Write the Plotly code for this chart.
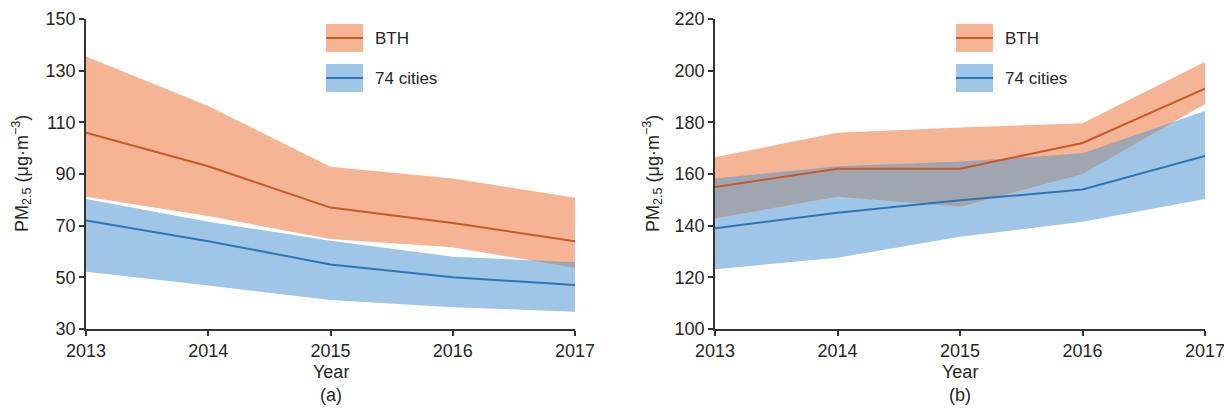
import numpy as np
import plotly.graph_objects as go

# ---- data -------------------------------------------------------------
years = [2013, 2014, 2015, 2016, 2017]

# (a) annual mean PM2.5
a_bth_mean = [106, 93, 77, 71, 64]
a_bth_upper = [135.5, 116.3, 92.8, 88.3, 80.8]
a_bth_lower = [81.2, 73.7, 64.8, 61.6, 53.7]
a_cities_mean = [72, 64, 55, 50, 47]
a_cities_upper = [80.3, 71.5, 64.2, 58.0, 55.8]
a_cities_lower = [52.2, 46.8, 41.2, 38.4, 36.7]

# (b) winter / peak PM2.5
b_bth_mean = [155, 162, 162, 172, 193]
b_bth_upper = [166.5, 176, 178, 179.6, 203.5]
b_bth_lower = [142.8, 151.2, 147.3, 160, 187.1]
b_cities_mean = [139, 145, 149.8, 154, 167]
b_cities_upper = [158.3, 163, 164.8, 168, 184.4]
b_cities_lower = [123.1, 127.6, 135.7, 141.5, 150.3]

series_names = ["BTH", "74 cities"]
panel_labels = ["(a)", "(b)"]
y_ranges = [(30, 150), (100, 220)]
y_ticks = [[30, 50, 70, 90, 110, 130, 150], [100, 120, 140, 160, 180, 200, 220]]

# ---- styles -----------------------------------------------------------
ORANGE_FILL = "#F5B595"
ORANGE_LINE = "#C65A28"
BLUE_FILL = "#9FC6E7"
BLUE_LINE = "#2E75B6"
GREY_FILL = "#A0A6B0"
AXIS_COLOR = "#333333"
TEXT_COLOR = "#262626"
FONT = "Liberation Sans, Arial, sans-serif"
FS = 18

W, H = 1224, 408
x_domains = [(86 / W, 575 / W), (715 / W, 1205 / W)]
y_domain = (1 - 329 / H, 1 - 19 / H)


def overlap_region(x, u1, l1, u2, l2):
    """Polygon of the area covered by both bands (piecewise linear)."""
    x = np.asarray(x, float)
    curves = [np.asarray(c, float) for c in (u1, l1, u2, l2)]
    xs = list(x)
    for i in range(len(x) - 1):
        for a in range(4):
            for b in range(a + 1, 4):
                d0 = curves[a][i] - curves[b][i]
                d1 = curves[a][i + 1] - curves[b][i + 1]
                if d0 * d1 < 0:
                    t = d0 / (d0 - d1)
                    xs.append(x[i] + t * (x[i + 1] - x[i]))
    xs = np.array(sorted(set(xs)))
    iu1, il1, iu2, il2 = (np.interp(xs, x, c) for c in curves)
    top = np.minimum(iu1, iu2)
    bot = np.maximum(il1, il2)
    bot = np.minimum(bot, top)
    return np.concatenate([xs, xs[::-1]]), np.concatenate([top, bot[::-1]])


fig = go.Figure()

panels = [
    (a_bth_mean, a_bth_upper, a_bth_lower, a_cities_mean, a_cities_upper, a_cities_lower),
    (b_bth_mean, b_bth_upper, b_bth_lower, b_cities_mean, b_cities_upper, b_cities_lower),
]

for k, (bm, bu, bl, cm, cu, cl) in enumerate(panels):
    xa = "x" if k == 0 else "x2"
    ya = "y" if k == 0 else "y2"
    band_x = years + years[::-1]
    # 74 cities band
    fig.add_trace(go.Scatter(x=band_x, y=cu + cl[::-1], fill="toself", fillcolor=BLUE_FILL,
                             line=dict(width=0), mode="lines", hoverinfo="skip",
                             showlegend=False, xaxis=xa, yaxis=ya))
    # BTH band
    fig.add_trace(go.Scatter(x=band_x, y=bu + bl[::-1], fill="toself", fillcolor=ORANGE_FILL,
                             line=dict(width=0), mode="lines", hoverinfo="skip",
                             showlegend=False, xaxis=xa, yaxis=ya))
    # overlap of the two bands
    ox, oy = overlap_region(years, bu, bl, cu, cl)
    fig.add_trace(go.Scatter(x=ox, y=oy, fill="toself", fillcolor=GREY_FILL,
                             line=dict(width=0), mode="lines", hoverinfo="skip",
                             showlegend=False, xaxis=xa, yaxis=ya))
    # mean lines
    fig.add_trace(go.Scatter(x=years, y=bm, mode="lines", line=dict(color=ORANGE_LINE, width=2),
                             name=series_names[0], showlegend=False, xaxis=xa, yaxis=ya))
    fig.add_trace(go.Scatter(x=years, y=cm, mode="lines", line=dict(color=BLUE_LINE, width=2),
                             name=series_names[1], showlegend=False, xaxis=xa, yaxis=ya))

axis_common = dict(
    showgrid=False, zeroline=False, showline=True, linecolor=AXIS_COLOR, linewidth=1.5,
    ticks="outside", ticklen=5, tickwidth=1.5, tickcolor=AXIS_COLOR, automargin=False,
    ticklabeloverflow="allow",
    tickfont=dict(family=FONT, size=FS, color=TEXT_COLOR),
)

for k in range(2):
    sfx = "" if k == 0 else "2"
    fig.layout["xaxis" + sfx] = dict(
        axis_common, domain=list(x_domains[k]), range=[2013, 2017],
        tickvals=years, ticktext=[str(y) for y in years], anchor="y" + sfx,
    )
    fig.layout["yaxis" + sfx] = dict(
        axis_common, domain=list(y_domain), range=list(y_ranges[k]),
        tickvals=y_ticks[k], anchor="x" + sfx,
    )

annotations = []
shapes = []
for k in range(2):
    x0, x1 = x_domains[k]
    xc = (x0 + x1) / 2
    # x title and panel label
    annotations.append(dict(text="Year", x=xc, y=1 - 372 / H, xref="paper", yref="paper",
                            showarrow=False, font=dict(family=FONT, size=FS, color=TEXT_COLOR),
                            xanchor="center", yanchor="middle"))
    annotations.append(dict(text=panel_labels[k], x=xc, y=1 - 395 / H, xref="paper", yref="paper",
                            showarrow=False, font=dict(family=FONT, size=FS, color=TEXT_COLOR),
                            xanchor="center", yanchor="middle"))
    # y title
    ytx = (21 if k == 0 else 652) / W
    annotations.append(dict(text="PM<sub>2.5</sub> (μg·m<sup>−3</sup>)", x=ytx,
                            y=(y_domain[0] + y_domain[1]) / 2, xref="paper", yref="paper",
                            textangle=-90, showarrow=False,
                            font=dict(family=FONT, size=FS, color=TEXT_COLOR),
                            xanchor="center", yanchor="middle"))
    # legend boxes
    lx0 = (326 if k == 0 else 956) / W
    lx1 = (363 if k == 0 else 993) / W
    for j, (fc, lc) in enumerate([(ORANGE_FILL, ORANGE_LINE), (BLUE_FILL, BLUE_LINE)]):
        yt = 1 - (24 + 40 * j) / H
        yb = 1 - (52 + 40 * j) / H
        ym = (yt + yb) / 2
        shapes.append(dict(type="rect", xref="paper", yref="paper", x0=lx0, x1=lx1, y0=yb, y1=yt,
                           fillcolor=fc, line=dict(width=0), layer="above"))
        shapes.append(dict(type="line", xref="paper", yref="paper", x0=lx0, x1=lx1, y0=ym, y1=ym,
                           line=dict(color=lc, width=2), layer="above"))
        annotations.append(dict(text=series_names[j], x=lx1 + 10 / W, y=ym, xref="paper",
                                yref="paper", showarrow=False, xanchor="left", yanchor="middle",
                                font=dict(family=FONT, size=17, color=TEXT_COLOR)))

fig.update_layout(
    width=W, height=H, margin=dict(l=0, r=0, t=0, b=0),
    paper_bgcolor="white", plot_bgcolor="white",
    annotations=annotations, shapes=shapes, showlegend=False,
)

fig.write_html("out.html")
